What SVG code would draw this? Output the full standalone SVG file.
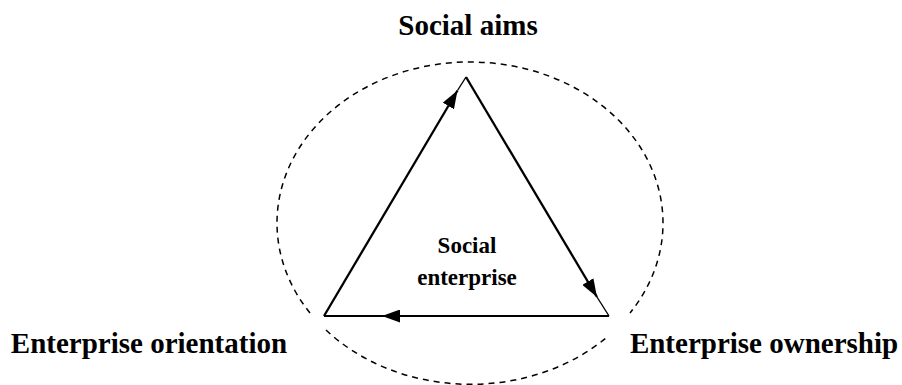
<svg xmlns="http://www.w3.org/2000/svg" width="902" height="385" viewBox="0 0 902 385">
<style>
.lbl{font-family:"Liberation Serif","Times New Roman",serif;font-weight:bold;fill:#000;text-anchor:middle}
.big{font-size:29px}
.mid{font-size:23px}
.edge{fill:none;stroke:#000;stroke-linecap:butt}
.ell{fill:none;stroke:#000;stroke-width:1.5;stroke-dasharray:6 5}
</style>
<defs>
<marker id="ah" markerUnits="userSpaceOnUse" viewBox="0 0 18 13" refX="18" refY="6.5" markerWidth="18" markerHeight="13" orient="auto">
<path d="M0,0 L18,6.5 L0,13 z" fill="#000"/>
</marker>
</defs>
<rect width="902" height="385" fill="#fff"/>
<g id="boundary">
<path class="ell" d="M310,313 A193,161 0 1 1 630,313"/>
<path class="ell" d="M326,330 A193,161 0 0 0 606,338"/>
</g>
<g id="connectors">
<path class="edge" stroke-width="2.3" d="M324,316 L457.5,90.5" marker-end="url(#ah)"/>
<path class="edge" stroke-width="1.4" d="M457.5,90.5 L466,77"/>
<path class="edge" stroke-width="2.3" d="M466,77 L597,297" marker-end="url(#ah)"/>
<path class="edge" stroke-width="1.4" d="M597,297 L609,316"/>
<path class="edge" stroke-width="1.8" d="M609,316 L382,316" marker-end="url(#ah)"/>
<path class="edge" stroke-width="1.8" d="M382,316 L324,316"/>
</g>
<g id="social-aims"><text class="lbl big" x="468" y="35">Social aims</text></g>
<g id="enterprise-orientation"><text class="lbl big" x="149" y="353">Enterprise orientation</text></g>
<g id="enterprise-ownership"><text class="lbl big" x="764" y="353">Enterprise ownership</text></g>
<g id="social-enterprise"><text class="lbl mid" x="467" y="253">Social</text><text class="lbl mid" x="467" y="285">enterprise</text></g>
</svg>
